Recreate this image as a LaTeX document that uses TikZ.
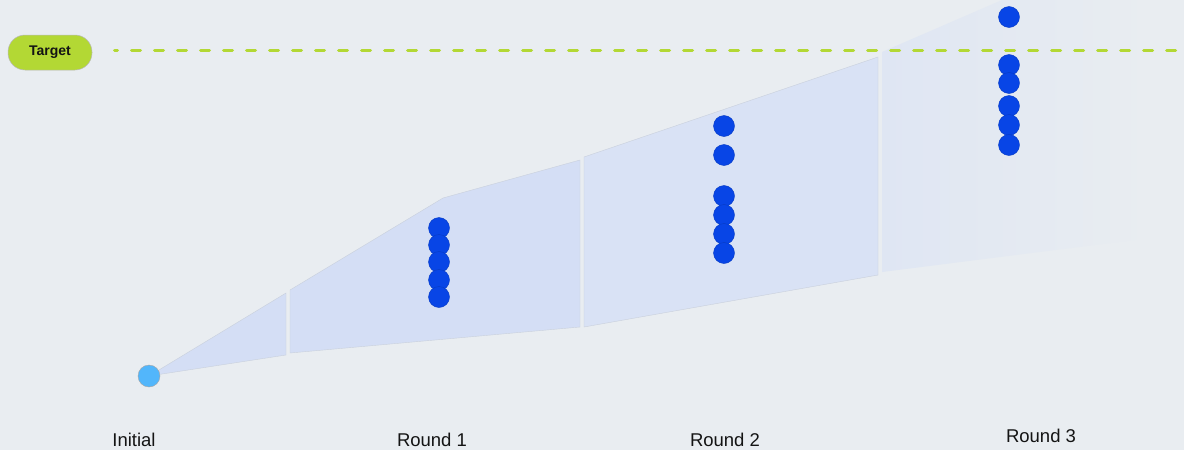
\documentclass[tikz,border=0pt]{standalone}
\usepackage{fontspec}
\setmainfont{Liberation Sans}
\definecolor{bg}{HTML}{E9EDF1}
\definecolor{bandA}{HTML}{D4DEF5}
\definecolor{bandB}{HTML}{D9E2F5}
\definecolor{bandC}{HTML}{DFE6F3}
\definecolor{dotblue}{HTML}{0845E6}
\definecolor{initblue}{HTML}{52B6FB}
\definecolor{lime}{HTML}{B3D834}
\definecolor{edge}{HTML}{C9D0DC}
\definecolor{txt}{HTML}{141414}
\begin{document}
\begin{tikzpicture}[x=1pt,y=-1pt,
  dotstyle/.style={circle, fill=dotblue, draw=dotblue!85!black, line width=0.4pt, minimum size=21pt, inner sep=0pt},
  initstyle/.style={circle, fill=initblue, draw=gray!70, line width=0.4pt, minimum size=22pt, inner sep=0pt},
  labelstyle/.style={font=\fontsize{18.5}{20}\selectfont, text=txt, inner sep=0pt},
  bandedge/.style={draw=edge, line width=0.4pt},
  targetline/.style={lime, line width=3pt, line cap=round, dash pattern=on 9pt off 14pt, dash phase=6pt}]
\fill[bg] (0,0) rectangle (1184,450);
\useasboundingbox (0,0) rectangle (1184,450);

% bands
\fill[bandA, bandedge] (149,376) -- (286,293) -- (286,355) -- cycle;
\fill[bandA, bandedge] (290,290) -- (443,198) -- (580,160) -- (580,327) -- (290,353) -- cycle;
\fill[bandB, bandedge] (584,157) -- (878,57) -- (878,275) -- (584,327) -- cycle;
\shade[left color=bandC, right color=bg] (882,52) -- (1002,0) -- (1150,0) -- (1150,238) -- (882,272) -- cycle;

% target line
\coordinate (ls) at (114.5,50);
\coordinate (le) at (1184,50);
\draw[targetline] (ls) -- (le);
\node[fill=lime, draw=gray!55, line width=0.5pt, rounded corners=17pt, minimum width=84pt, minimum height=35pt, inner sep=0pt,
      font=\bfseries\fontsize{14}{16}\selectfont, text=txt] (target) at (50,52.5) {Target};

% initial
\node[initstyle] (init) at (149,376) {};

% round 1
\foreach \y [count=\i] in {228,245,262,280,297}
  \node[dotstyle] (r1d\i) at (439,\y) {};
% round 2
\foreach \y [count=\i] in {126,155,196,215,234,253}
  \node[dotstyle] (r2d\i) at (724,\y) {};
% round 3
\foreach \y [count=\i] in {17,65,83,106,125,145}
  \node[dotstyle] (r3d\i) at (1009,\y) {};

% labels
\node[labelstyle] (l0) at (134,439.5) {Initial};
\node[labelstyle] (l1) at (432,439.5) {Round 1};
\node[labelstyle] (l2) at (725,440) {Round 2};
\node[labelstyle] (l3) at (1041,436) {Round 3};
\end{tikzpicture}
\end{document}
